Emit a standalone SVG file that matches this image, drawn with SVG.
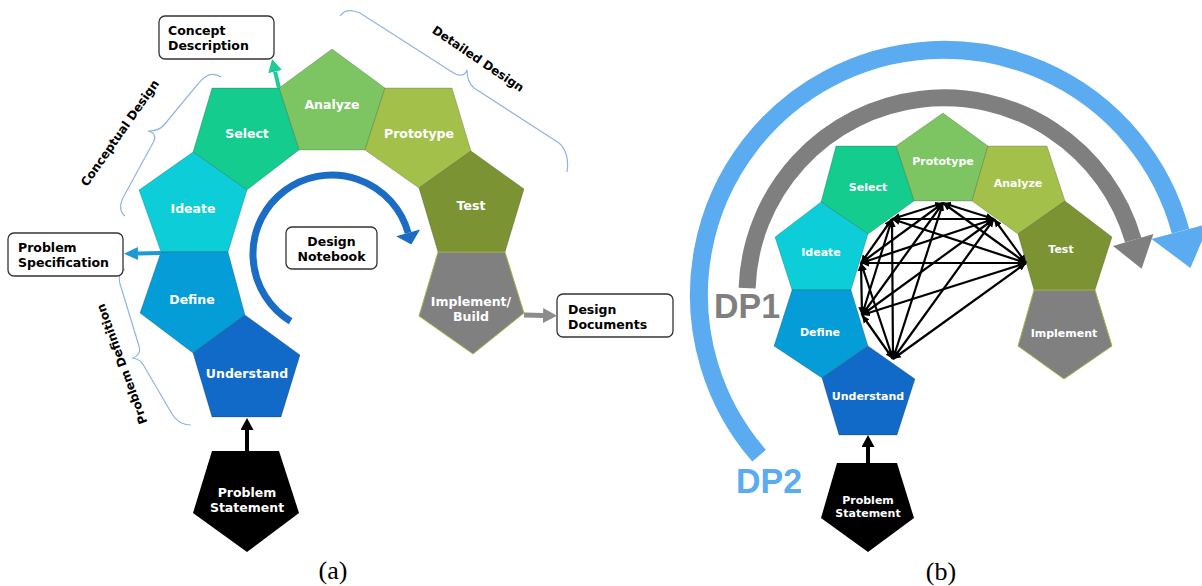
<svg xmlns="http://www.w3.org/2000/svg" width="1202" height="586" viewBox="0 0 1202 586">
<style>
.pent{stroke:#000;stroke-opacity:0.18;stroke-width:1;stroke-linejoin:round}
.lbl{font-family:"DejaVu Sans",Verdana,sans-serif;font-weight:bold;font-size:12.5px;fill:#fff;text-anchor:middle}
.lbls{font-family:"DejaVu Sans",Verdana,sans-serif;font-weight:bold;font-size:11px;fill:#fff;text-anchor:middle}
.box{fill:#fff;stroke:#333;stroke-width:1.3}
.btxt{font-family:"DejaVu Sans",Verdana,sans-serif;font-weight:bold;font-size:12.5px;fill:#000}
.rot{font-family:"DejaVu Sans",Verdana,sans-serif;font-weight:bold;font-size:12px;fill:#000;text-anchor:middle}
.brace{fill:none;stroke:#8eb4e3;stroke-width:1.2}
.net{stroke:#000;stroke-width:2.2;marker-start:url(#ah);marker-end:url(#ah)}
.cap{font-family:"Liberation Serif","Times New Roman",serif;font-size:26px;fill:#000;text-anchor:middle}
.dp{font-family:"Liberation Sans",Arial,sans-serif;font-weight:bold;font-size:35px}
</style>
<defs>
<marker id="ah" viewBox="0 0 10 10" refX="10" refY="5" markerWidth="3.6" markerHeight="3.6" orient="auto-start-reverse"><path d="M0,0.5 L10,5 L0,9.5 z" fill="#000"/></marker>
<marker id="hTeal" viewBox="0 0 13 14" refX="0" refY="7" markerWidth="13" markerHeight="14" markerUnits="userSpaceOnUse" orient="auto"><path d="M0,0 L13,7 L0,14 z" fill="#1ecb9a"/></marker>
<marker id="hBlue" viewBox="0 0 14 13" refX="0" refY="6.5" markerWidth="14" markerHeight="13" markerUnits="userSpaceOnUse" orient="auto"><path d="M0,0 L14,6.5 L0,13 z" fill="#1c9ad6"/></marker>
<marker id="hGray" viewBox="0 0 14 15" refX="0" refY="7.5" markerWidth="14" markerHeight="15" markerUnits="userSpaceOnUse" orient="auto"><path d="M0,0 L14,7.5 L0,15 z" fill="#8c8c8c"/></marker>
<marker id="hBlack" viewBox="0 0 12 13" refX="0" refY="6.5" markerWidth="12" markerHeight="13" markerUnits="userSpaceOnUse" orient="auto"><path d="M0,0 L12,6.5 L0,13 z" fill="#000"/></marker>
</defs>
<rect width="1202" height="586" fill="#fff"/>

<!-- ===== Panel (a) ===== -->
<g id="braces-a">
<path class="brace" d="M221,77 C212,71 204,76 198,84 L164,125 C160,130 154,131 148,131 C154,132 156,136 154,141 L124,196 C119,205 119,211 125,216"/>
<path class="brace" d="M125,269 C119,272 118,279 121,287 L139,346 C141,352 138,356 133,358 C139,359 142,362 144,366 L172,414 C177,422 183,425 191,425"/>
<path class="brace" d="M340,16 C344,10 351,9 360,13 L452,72 C459,77 465,76 467,70 C467,77 468,83 474,88 L559,143 C566,149 569,160 567,172"/>
<text class="rot" transform="translate(120,133) rotate(-55)" y="4">Conceptual Design</text>
<text class="rot" transform="translate(478,59) rotate(34)" y="4">Detailed Design</text>
<text class="rot" transform="translate(122,364) rotate(-110)" y="4">Problem Definition</text>
</g>

<g id="a-analyze"><polygon class="pent" fill="#7dc462" points="332,49 385,88 365,150 299,150 279,88"/><text class="lbl" x="332" y="109">Analyze</text></g>
<g id="a-select"><polygon class="pent" fill="#14cc8e" points="212,88 279,88 299,150 247,190 193,152"/><text class="lbl" x="247" y="138">Select</text></g>
<g id="a-ideate"><polygon class="pent" fill="#0ccdd8" points="193,152 247,190 228,252 161,252 139,190"/><text class="lbl" x="193" y="213">Ideate</text></g>
<g id="a-define"><polygon class="pent" fill="#059dd8" points="161,252 228,252 245,315 193,353 140,313"/><text class="lbl" x="192" y="304">Define</text></g>
<g id="a-understand"><polygon class="pent" fill="#1169c8" points="245,315 300,355 281,417 212,417 193,353"/><text class="lbl" x="247" y="378">Understand</text></g>
<g id="a-prototype"><polygon class="pent" fill="#a3c14a" points="385,88 452,88 471,151 419,188 365,150"/><text class="lbl" x="419" y="138">Prototype</text></g>
<g id="a-test"><polygon class="pent" fill="#7b9332" points="471,151 524,189 505,252 438,252 419,188"/><text class="lbl" x="471" y="210">Test</text></g>
<g id="a-implement"><polygon fill="#808080" stroke="#a6b84a" stroke-width="1" points="438,252 505,252 524,313 473,354 419,316"/><text class="lbl" x="471" y="306">Implement/</text><text class="lbl" x="471" y="321">Build</text></g>
<g id="a-problem"><polygon fill="#000" points="212,451 279,451 299,513 247,552 193,513"/><text class="lbl" x="247" y="497">Problem</text><text class="lbl" x="247" y="512">Statement</text></g>

<g id="a-concept-box"><rect class="box" x="159" y="16" width="115" height="43" rx="6"/><text class="btxt" x="168" y="35">Concept</text><text class="btxt" x="168" y="50">Description</text></g>
<g id="a-spec-box"><rect class="box" x="8" y="233" width="115" height="43" rx="6"/><text class="btxt" x="18" y="252">Problem</text><text class="btxt" x="18" y="267">Specification</text></g>
<g id="a-notebook-box"><rect class="box" x="286" y="227" width="91" height="42" rx="6"/><text class="btxt" x="331.5" y="246" text-anchor="middle">Design</text><text class="btxt" x="331.5" y="261" text-anchor="middle">Notebook</text></g>
<g id="a-documents-box"><rect class="box" x="557" y="294" width="116" height="43" rx="6"/><text class="btxt" x="568" y="314">Design</text><text class="btxt" x="568" y="329">Documents</text></g>

<g id="a-connectors">
<line x1="279" y1="88" x2="275.1" y2="71.6" stroke="#1ecb9a" stroke-width="4" marker-end="url(#hTeal)"/>
<line x1="161" y1="253" x2="138" y2="253.5" stroke="#1c9ad6" stroke-width="4" marker-end="url(#hBlue)"/>
<line x1="524" y1="315" x2="543" y2="315.5" stroke="#8c8c8c" stroke-width="5" marker-end="url(#hGray)"/>
<line x1="247" y1="451" x2="247" y2="430" stroke="#000" stroke-width="4" marker-end="url(#hBlack)"/>
<path d="M290.6,321.3 A79,79 0 1 1 408.1,232.9" fill="none" stroke="#1a6cc4" stroke-width="7"/>
<polygon points="420.1,229.6 411.3,244.5 396.1,236.2" fill="#1a6cc4"/>
</g>

<text class="cap" x="333" y="579">(a)</text>

<!-- ===== Panel (b) ===== -->
<g id="b-cycles">
<path d="M759.1,455.7 A245,245 0 1 1 1180.5,231.2" fill="none" stroke="#5aabf0" stroke-width="18"/>
<polygon points="1209.5,223.4 1190.4,267.9 1151.5,239" fill="#5aabf0"/>
<path d="M747.1,288.1 A197,197 0 0 1 1133.2,240" fill="none" stroke="#7f7f7f" stroke-width="17"/>
<polygon points="1153.4,234.1 1141.6,268.8 1113,245.9" fill="#7f7f7f"/>
<text class="dp" x="714" y="318" fill="#7f7f7f" textLength="66" lengthAdjust="spacingAndGlyphs">DP1</text>
<text class="dp" x="736" y="493" fill="#5aabf0" textLength="66" lengthAdjust="spacingAndGlyphs">DP2</text>
</g>

<g id="b-prototype"><polygon class="pent" fill="#7dc462" points="943,113 988,146 972,201 914,201 896,146"/><text class="lbls" x="943" y="165">Prototype</text></g>
<g id="b-select"><polygon class="pent" fill="#14cc8e" points="836,146 896,146 914,201 868,234 821,202"/><text class="lbls" x="868" y="191">Select</text></g>
<g id="b-analyze"><polygon class="pent" fill="#a3c14a" points="988,146 1047,146 1065,201 1018,234 972,201"/><text class="lbls" x="1018" y="187">Analyze</text></g>
<g id="b-ideate"><polygon class="pent" fill="#0ccdd8" points="821,202 868,234 851,290 792,290 775,237"/><text class="lbls" x="821" y="256">Ideate</text></g>
<g id="b-test"><polygon class="pent" fill="#7b9332" points="1065,201 1112,237 1095,290 1034,290 1018,234"/><text class="lbls" x="1061" y="253">Test</text></g>
<g id="b-define"><polygon class="pent" fill="#059dd8" points="792,290 851,290 868,346 822,378 774,346"/><text class="lbls" x="820" y="336">Define</text></g>
<g id="b-understand"><polygon class="pent" fill="#1169c8" points="868,346 915,379 897,435 839,435 822,378"/><text class="lbls" x="868" y="400">Understand</text></g>
<g id="b-implement"><polygon fill="#808080" stroke="#a6b84a" stroke-width="1" points="1034,290 1095,290 1112,346 1064,379 1018,346"/><text class="lbls" x="1064" y="337">Implement</text></g>
<g id="b-problem"><polygon fill="#000" points="837,463 897,463 914,518 868,552 821,518"/><text class="lbls" x="868" y="504">Problem</text><text class="lbls" x="868" y="517">Statement</text></g>

<g id="b-connectors">
<line class="net" x1="943" y1="203" x2="892" y2="219"/>
<line class="net" x1="943" y1="203" x2="994" y2="219"/>
<line class="net" x1="943" y1="203" x2="861" y2="263"/>
<line class="net" x1="943" y1="203" x2="1026" y2="263"/>
<line class="net" x1="943" y1="203" x2="862" y2="315"/>
<line class="net" x1="943" y1="203" x2="893" y2="359"/>
<line class="net" x1="892" y1="219" x2="994" y2="219"/>
<line class="net" x1="892" y1="219" x2="861" y2="263"/>
<line class="net" x1="892" y1="219" x2="1026" y2="263"/>
<line class="net" x1="892" y1="219" x2="862" y2="315"/>
<line class="net" x1="892" y1="219" x2="893" y2="359"/>
<line class="net" x1="994" y1="219" x2="861" y2="263"/>
<line class="net" x1="994" y1="219" x2="1026" y2="263"/>
<line class="net" x1="994" y1="219" x2="862" y2="315"/>
<line class="net" x1="994" y1="219" x2="893" y2="359"/>
<line class="net" x1="861" y1="263" x2="1026" y2="263"/>
<line class="net" x1="861" y1="263" x2="862" y2="315"/>
<line class="net" x1="861" y1="263" x2="893" y2="359"/>
<line class="net" x1="1026" y1="263" x2="862" y2="315"/>
<line class="net" x1="1026" y1="263" x2="893" y2="359"/>
<line class="net" x1="862" y1="315" x2="893" y2="359"/>
<line x1="868" y1="463" x2="868" y2="447" stroke="#000" stroke-width="4" marker-end="url(#hBlack)"/>
</g>

<text class="cap" x="941" y="580">(b)</text>
</svg>
